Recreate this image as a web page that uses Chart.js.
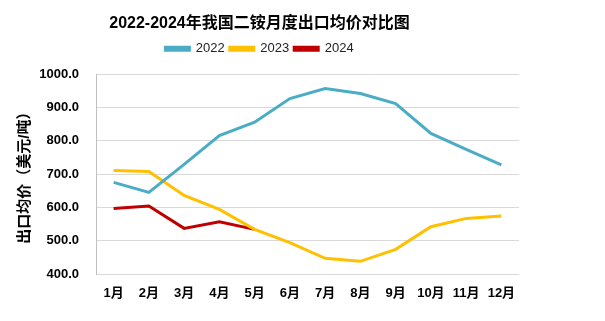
<!DOCTYPE html>
<html>
<head>
<meta charset="utf-8">
<script src="https://cdn.jsdelivr.net/npm/chart.js@4/dist/chart.umd.min.js"></script>
<style>
  html, body { margin: 0; padding: 0; background: #fff; }
  #wrap { width: 605px; height: 321px; }
</style>
</head>
<body>
<div id="wrap"><canvas id="priceChart" width="605" height="321"></canvas></div>
<script>
const months = ['1月', '2月', '3月', '4月', '5月', '6月', '7月', '8月', '9月', '10月', '11月', '12月'];
const price2022 = [675, 645, 729, 816, 856, 927, 957, 942, 912, 822, 774, 728];
const price2023 = [711, 708, 636, 594, 534, 494, 447, 438, 474, 542, 567, 574];
const price2024 = [597, 604, 537, 557, 534];
const yTicks = [400, 500, 600, 700, 800, 900, 1000];

const fontFamily = '"Liberation Sans", Arial, "Noto Sans CJK SC", sans-serif';

// extra space between legend and plot area
const legendGap = {
    id: 'legendGap',
    beforeInit(chart) {
        const origFit = chart.legend.fit;
        chart.legend.fit = function() {
            origFit.bind(chart.legend)();
            this.height += 9;
        };
    }
};

document.addEventListener('DOMContentLoaded', function() {
    const ctx = document.getElementById('priceChart').getContext('2d');
    new Chart(ctx, {
        type: 'line',
        data: {
            labels: months,
            datasets: [
                { label: '2022', data: price2022, borderColor: '#4BACC6', backgroundColor: '#4BACC6' },
                { label: '2023', data: price2023, borderColor: '#FFC000', backgroundColor: '#FFC000' },
                { label: '2024', data: price2024, borderColor: '#C00000', backgroundColor: '#C00000' }
            ]
        },
        options: {
            responsive: false,
            animation: false,
            layout: { padding: { left: 0, right: 86, top: 0, bottom: 0 } },
            elements: {
                line: { borderWidth: 3, tension: 0 },
                point: { radius: 0 }
            },
            plugins: {
                title: {
                    display: true,
                    text: '2022-2024年我国二铵月度出口均价对比图',
                    color: '#000',
                    font: { family: fontFamily, size: 16, weight: 'bold' },
                    padding: { top: 14, bottom: 4 }
                },
                legend: {
                    labels: {
                        color: '#222',
                        font: { family: fontFamily, size: 13 },
                        boxWidth: 24,
                        boxHeight: 3,
                        padding: 5
                    }
                },
                tooltip: { enabled: false }
            },
            scales: {
                x: {
                    offset: true,
                    grid: { display: false, drawTicks: false },
                    border: { display: false },
                    ticks: {
                        color: '#000',
                        padding: 12,
                        maxRotation: 0,
                        font: { family: fontFamily, size: 13, weight: 'bold' }
                    },
                    afterFit: function(scale) { scale.height = 47; }
                },
                y: {
                    min: yTicks[0],
                    max: yTicks[yTicks.length - 1],
                    afterBuildTicks: function(scale) {
                        scale.ticks = yTicks.map(v => ({ value: v }));
                    },
                    grid: { color: '#D9D9D9', lineWidth: 1, drawTicks: false },
                    border: { display: true, color: '#BFBFBF' },
                    ticks: {
                        color: '#000',
                        padding: 17,
                        font: { family: fontFamily, size: 13, weight: 'bold' },
                        callback: function(v) { return Number(v).toFixed(1); }
                    },
                    title: {
                        display: true,
                        text: '出口均价（美元/吨）',
                        color: '#000',
                        font: { family: fontFamily, size: 15, weight: 'bold' },
                        padding: { top: 16, bottom: 8 }
                    },
                    afterFit: function(scale) { scale.width = 96; }
                }
            }
        },
        plugins: [legendGap]
    });
});
</script>
</body>
</html>
